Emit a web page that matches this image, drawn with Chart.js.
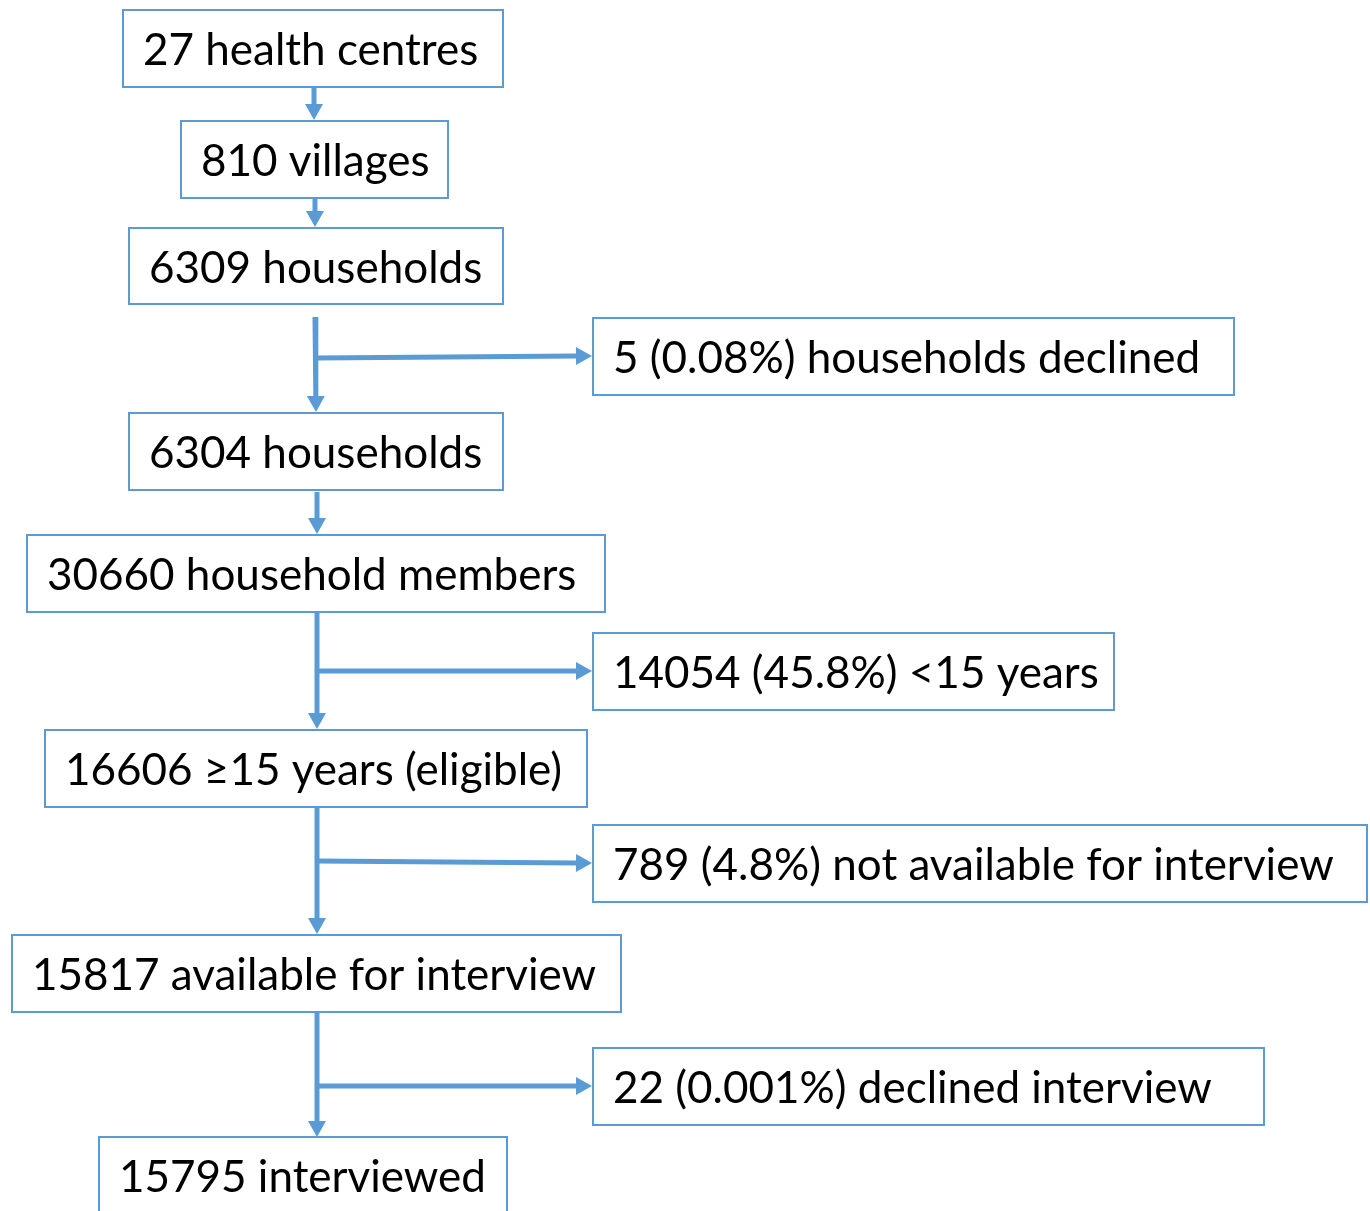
<!DOCTYPE html>
<html>
<head>
<meta charset="utf-8">
<script src="https://cdn.jsdelivr.net/npm/chart.js@4.4.0/dist/chart.umd.min.js"></script>
<style>
  html, body { margin: 0; padding: 0; background: #fff; }
</style>
</head>
<body>
<canvas id="flow" width="1370" height="1211"></canvas>
<script>
// Flow of the survey: main steps and the exclusions branching off them
const stepLabels = [
    '27 health centres',
    '810 villages',
    '6309 households',
    '6304 households',
    '30660 household members',
    '16606 \u226515 years (eligible)',
    '15817 available for interview',
    '15795 interviewed'
];
const exclusionLabels = [
    '5 (0.08%) households declined',
    '14054 (45.8%) <15 years',
    '789 (4.8%) not available for interview',
    '22 (0.001%) declined interview'
];

// Box layout in canvas units: [left, right, top, bottom]
const stepBoxes = [
    [123, 503, 10, 87],
    [181, 448, 121, 198],
    [129, 503, 228, 304],
    [129, 503, 413, 490],
    [27, 605, 535, 612],
    [45, 587, 730, 807],
    [12, 621, 935, 1012],
    [99, 507, 1137, 1220]
];
const exclusionBoxes = [
    [593, 1234, 318, 395],
    [593, 1114, 633, 710],
    [593, 1367, 825, 902],
    [593, 1264, 1048, 1125]
];
// Connectors [x1, y1, x2, y2], arrowhead at the end
const connectors = [
    [314, 88, 314, 120],
    [315, 199, 315, 227],
    [315, 317, 316, 412],
    [316, 358, 592, 356],
    [317, 492, 317, 534],
    [317, 613, 317, 729],
    [317, 671, 592, 671],
    [317, 808, 317, 934],
    [317, 861, 592, 863],
    [317, 1013, 317, 1137],
    [317, 1086, 592, 1086]
];

const BLUE = '#5b9bd5';
const HEAD_LEN = 16;
const HEAD_HALF = 9;

function shaftEnd(c) {
    const dx = c[2] - c[0], dy = c[3] - c[1];
    const len = Math.hypot(dx, dy);
    return { x: c[2] - dx / len * (HEAD_LEN - 1), y: c[3] - dy / len * (HEAD_LEN - 1) };
}

const datasets = connectors.map(c => ({
    type: 'line',
    data: [{ x: c[0], y: c[1] }, shaftEnd(c)],
    borderColor: BLUE,
    borderWidth: 5,
    borderCapStyle: 'butt',
    pointRadius: 0,
    fill: false
}));

const flowPlugin = {
    id: 'flow',
    beforeDatasetsDraw(chart) {
        const { ctx, scales: { x, y } } = chart;
        ctx.save();
        ctx.strokeStyle = BLUE;
        ctx.lineWidth = 2;
        stepBoxes.concat(exclusionBoxes).forEach(b => {
            const l = x.getPixelForValue(b[0]), r = x.getPixelForValue(b[1]);
            const t = y.getPixelForValue(b[2]), btm = y.getPixelForValue(b[3]);
            ctx.strokeRect(l, t, r - l, btm - t);
        });
        ctx.restore();
    },
    afterDatasetsDraw(chart) {
        const { ctx, scales: { x, y } } = chart;
        ctx.save();
        // arrowheads
        ctx.fillStyle = BLUE;
        connectors.forEach(c => {
            const tip = { x: x.getPixelForValue(c[2]), y: y.getPixelForValue(c[3]) };
            const dx = c[2] - c[0], dy = c[3] - c[1];
            const len = Math.hypot(dx, dy);
            const ux = dx / len, uy = dy / len;
            const base = { x: tip.x - ux * HEAD_LEN, y: tip.y - uy * HEAD_LEN };
            const nx = -uy * HEAD_HALF, ny = ux * HEAD_HALF;
            ctx.beginPath();
            ctx.moveTo(tip.x, tip.y);
            ctx.lineTo(base.x + nx, base.y + ny);
            ctx.lineTo(base.x - nx, base.y - ny);
            ctx.closePath();
            ctx.fill();
        });
        // labels
        ctx.fillStyle = '#000';
        ctx.font = '44px Lato';
        ctx.textBaseline = 'alphabetic';
        const drawLabel = (text, b) => {
            const l = x.getPixelForValue(b[0]);
            const t = y.getPixelForValue(b[2]);
            ctx.fillText(text, l + 20, t + 38.5 + 16);
        };
        stepLabels.forEach((s, i) => drawLabel(s, stepBoxes[i]));
        exclusionLabels.forEach((s, i) => drawLabel(s, exclusionBoxes[i]));
        ctx.restore();
    }
};

new Chart(document.getElementById('flow'), {
    type: 'scatter',
    data: { datasets },
    options: {
        responsive: false,
        animation: false,
        layout: { padding: 0 },
        scales: {
            x: { type: 'linear', min: 0, max: 1370, display: false },
            y: { type: 'linear', min: 0, max: 1211, reverse: true, display: false }
        },
        plugins: {
            legend: { display: false },
            tooltip: { enabled: false }
        }
    },
    plugins: [flowPlugin]
});
</script>
</body>
</html>
